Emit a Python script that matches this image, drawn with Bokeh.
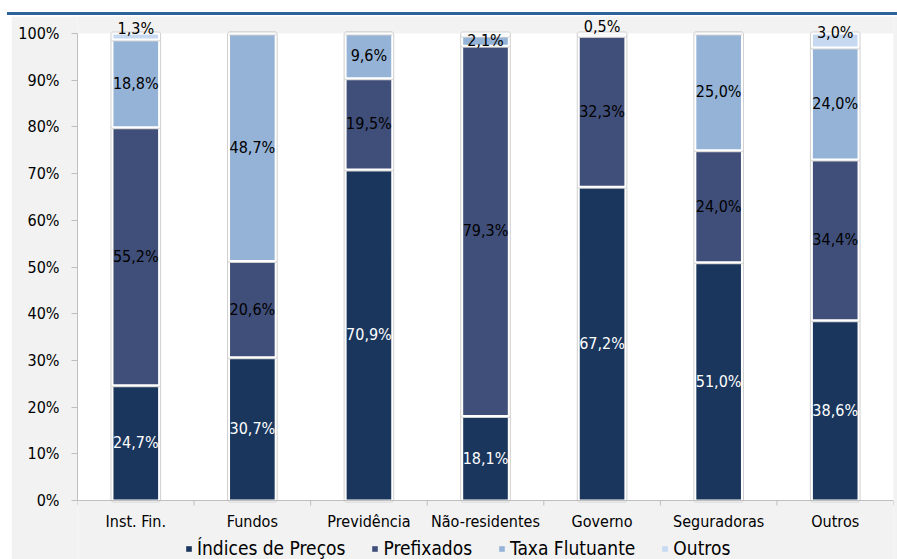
import math
from bokeh.plotting import figure
from bokeh.models import (ColumnDataSource, FixedTicker, Range1d, Div, Legend, LegendItem)
from bokeh.layouts import column
from bokeh.core.properties import value
from bokeh.embed import file_html
from bokeh.resources import INLINE

categories = ["Inst. Fin.", "Fundos", "Previdência", "Não-residentes", "Governo", "Seguradoras", "Outros"]
series_names = ["Índices de Preços", "Prefixados", "Taxa Flutuante", "Outros"]
indices_precos = [24.7, 30.7, 70.9, 18.1, 67.2, 51.0, 38.6]
prefixados = [55.2, 20.6, 19.5, 79.3, 32.3, 24.0, 34.4]
taxa_flutuante = [18.8, 48.7, 9.6, 2.1, 0.0, 25.0, 24.0]
outros = [1.3, 0.0, 0.0, 0.5, 0.5, 0.0, 3.0]
hidden_labels = [("Não-residentes", "Outros")]
y_ticks = [0, 10, 20, 30, 40, 50, 60, 70, 80, 90, 100]

colors = ["#1A365D", "#404F7A", "#95B3D7", "#C6D9F1"]
label_colors = ["white", "black", "black", "black"]
FONT = "'DejaVu Sans Condensed', 'DejaVu Sans'"
AXIS_COLOR = "#BFBFBF"

series = [indices_precos, prefixados, taxa_flutuante, outros]

W, H = 886, 543
# frame spans the whole figure height; 0..100% occupies 467 px of it
px = 100.0 / 467
y_start = -59 * px
y_end = 100.0 + 17 * px

p = figure(width=W, height=H, output_backend="svg", toolbar_location=None,
           x_range=Range1d(0, len(categories)), y_range=Range1d(y_start, y_end),
           min_border_left=66, min_border_right=4, min_border_top=0, min_border_bottom=0,
           background_fill_color="#F2F2F2", border_fill_color="#F2F2F2",
           outline_line_color=None, margin=(1, 0, 0, 11))
p.xgrid.visible = False
p.ygrid.visible = False

# white plot area 0..100%
p.quad(left=[0], right=[len(categories)], bottom=[0], top=[100],
       fill_color="white", line_color=None)

xs = [i + 0.5 for i in range(len(categories))]
bar_w = 0.4
bottoms = [0.0] * len(categories)
lbl_x, lbl_y, lbl_t, lbl_c, lbl_off = [], [], [], [], []
for si, vals in enumerate(series):
    tops = [b + v for b, v in zip(bottoms, vals)]
    src = ColumnDataSource(dict(x=xs, bottom=bottoms, top=tops))
    p.vbar(x="x", bottom="bottom", top="top", width=bar_w, source=src,
           fill_color=colors[si], line_color="#D0D0D0", line_width=4)
    p.vbar(x="x", bottom="bottom", top="top", width=bar_w, source=src,
           fill_color=colors[si], line_color="white", line_width=2)
    for ci, v in enumerate(vals):
        if v <= 0 or (categories[ci], series_names[si]) in hidden_labels:
            continue
        lbl_x.append(xs[ci])
        lbl_y.append((bottoms[ci] + tops[ci]) / 2)
        lbl_t.append(f"{v:.1f}%".replace(".", ","))
        lbl_c.append(label_colors[si])
        lbl_off.append(-8 if (v <= 3.0 and si == 3) else 0)
    bottoms = tops

lsrc = ColumnDataSource(dict(x=lbl_x, y=lbl_y, t=lbl_t, c=lbl_c, o=lbl_off))
p.text(x="x", y="y", text="t", text_color="c", y_offset="o", source=lsrc,
       text_align="center", text_baseline="middle",
       text_font=value(FONT), text_font_size="16px")

# x axis drawn in the frame (line, boundary ticks, category labels)
bounds = list(range(len(categories) + 1))
p.segment(x0=[0], y0=[0], x1=[len(categories)], y1=[0], line_color=AXIS_COLOR, line_width=1)
p.segment(x0=bounds, y0=[0] * len(bounds), x1=bounds, y1=[-5 * px] * len(bounds),
          line_color=AXIS_COLOR, line_width=1)
p.text(x=xs, y=[0] * len(xs), text=categories, y_offset=11,
       text_align="center", text_baseline="top", text_color="black",
       text_font=value(FONT), text_font_size="16px")

# legend-only glyphs
items = []
for si, name in enumerate(series_names):
    r = p.vbar(x=[math.nan], top=[math.nan], width=0.1, fill_color=colors[si], line_color=None)
    items.append(LegendItem(label=name, renderers=[r]))
legend = Legend(items=items, orientation="horizontal", location=(108, 0),
                glyph_width=7, glyph_height=7, label_standoff=5, spacing=26,
                label_text_font=FONT, label_text_font_size="19px",
                label_text_color="black",
                background_fill_alpha=0, border_line_color=None,
                margin=0, padding=1)
p.add_layout(legend, "center")

# y axis
p.xaxis.visible = False
p.yaxis.ticker = FixedTicker(ticks=y_ticks, minor_ticks=[])
p.yaxis.major_label_overrides = {t: f"{t}%" for t in y_ticks}
p.yaxis.bounds = (0, 100)
p.yaxis.axis_line_color = AXIS_COLOR
p.yaxis.major_tick_line_color = AXIS_COLOR
p.yaxis.major_tick_out = 6
p.yaxis.major_tick_in = 0
p.yaxis.major_label_standoff = 12
p.yaxis.major_label_text_font = FONT
p.yaxis.major_label_text_font_size = "16px"
p.yaxis.major_label_text_color = "black"

bar = Div(width=890, height=3, margin=(12, 0, 0, 7),
          styles={"background-color": "#2E6399"})
layout = column(bar, p, spacing=0)

open("out.html", "w").write(file_html(layout, INLINE))
